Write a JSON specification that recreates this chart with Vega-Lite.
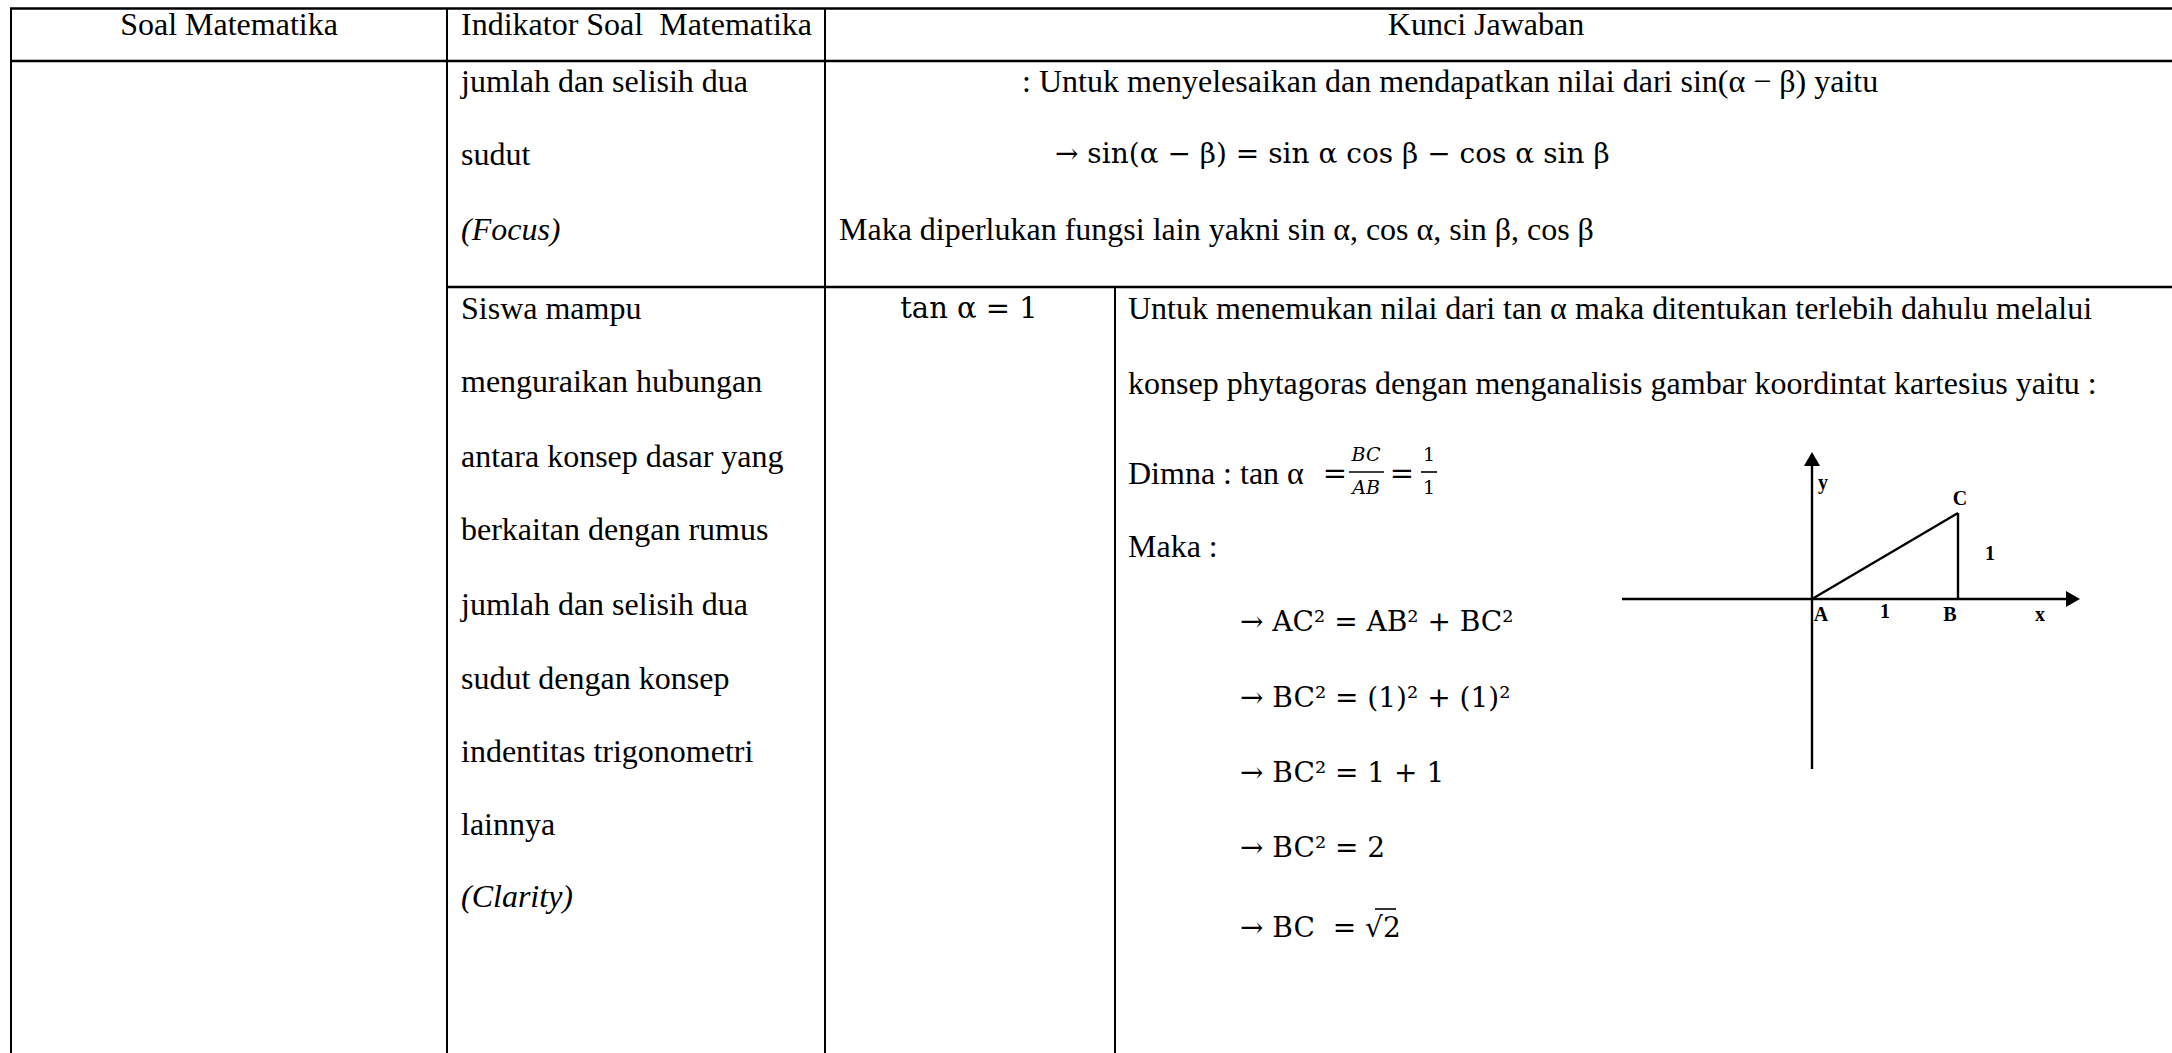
{
  "$schema": "https://vega.github.io/schema/vega-lite/v6.json",
  "width": 2172,
  "height": 1053,
  "padding": 0,
  "autosize": {"type": "none"},
  "background": "white",
  "config": {"view": {"stroke": null}},
  "datasets": {
    "lines": [
      {"kind": "h", "x": 10, "y": 8.5, "x2": 2172, "y2": 8.5},
      {"kind": "h", "x": 10, "y": 61, "x2": 2172, "y2": 61},
      {"kind": "h", "x": 446, "y": 287, "x2": 2172, "y2": 287},
      {"kind": "v", "x": 11, "y": 8, "x2": 11, "y2": 1053},
      {"kind": "v", "x": 447, "y": 8, "x2": 447, "y2": 1053},
      {"kind": "v", "x": 825, "y": 8, "x2": 825, "y2": 1053},
      {"kind": "v", "x": 1115, "y": 287, "x2": 1115, "y2": 1053},
      {"kind": "d", "x": 1622, "y": 599, "x2": 2068, "y2": 599},
      {"kind": "d", "x": 1812, "y": 466, "x2": 1812, "y2": 769},
      {"kind": "d", "x": 1812, "y": 599, "x2": 1958, "y2": 513},
      {"kind": "d", "x": 1958, "y": 513, "x2": 1958, "y2": 599},
      {"kind": "f", "x": 1349, "y": 472, "x2": 1384, "y2": 472},
      {"kind": "f", "x": 1421, "y": 472, "x2": 1437, "y2": 472},
      {"kind": "f", "x": 1375, "y": 909, "x2": 1396, "y2": 909}
    ],
    "arrows": [
      {"dir": "right", "x": 2073, "y": 599},
      {"dir": "up", "x": 1812, "y": 459}
    ],
    "texts": [
      {"kind": "hc", "x": 229, "y": 25, "t": "Soal Matematika"},
      {"kind": "hc", "x": 1486, "y": 25, "t": "Kunci Jawaban"},
      {"kind": "l", "x": 461, "y": 25, "t": "Indikator Soal\u00a0 Matematika"},
      {"kind": "l", "x": 461, "y": 82, "t": "jumlah dan selisih dua"},
      {"kind": "l", "x": 461, "y": 155, "t": "sudut"},
      {"kind": "i", "x": 461, "y": 230, "t": "(Focus)"},
      {"kind": "l", "x": 1022, "y": 82, "t": ": Untuk menyelesaikan dan mendapatkan nilai dari sin(α − β) yaitu"},
      {"kind": "m", "x": 1055, "y": 155, "t": "→ sin(α − β) = sin α cos β − cos α sin β"},
      {"kind": "l", "x": 839, "y": 230, "t": "Maka diperlukan fungsi lain yakni sin α, cos α, sin β, cos β"},
      {"kind": "l", "x": 461, "y": 309, "t": "Siswa mampu"},
      {"kind": "l", "x": 461, "y": 382, "t": "menguraikan hubungan"},
      {"kind": "l", "x": 461, "y": 457, "t": "antara konsep dasar yang"},
      {"kind": "l", "x": 461, "y": 530, "t": "berkaitan dengan rumus"},
      {"kind": "l", "x": 461, "y": 605, "t": "jumlah dan selisih dua"},
      {"kind": "l", "x": 461, "y": 679, "t": "sudut dengan konsep"},
      {"kind": "l", "x": 461, "y": 752, "t": "indentitas trigonometri"},
      {"kind": "l", "x": 461, "y": 825, "t": "lainnya"},
      {"kind": "i", "x": 461, "y": 897, "t": "(Clarity)"},
      {"kind": "mc", "x": 969, "y": 309, "t": "tan α = 1"},
      {"kind": "l", "x": 1128, "y": 309, "t": "Untuk menemukan nilai dari tan α maka ditentukan terlebih dahulu melalui"},
      {"kind": "l", "x": 1128, "y": 384, "t": "konsep phytagoras dengan menganalisis gambar koordintat kartesius yaitu :"},
      {"kind": "l", "x": 1128, "y": 474, "t": "Dimna : tan α"},
      {"kind": "mc", "x": 1335, "y": 474, "t": "="},
      {"kind": "mc", "x": 1402, "y": 474, "t": "="},
      {"kind": "fr", "x": 1366, "y": 455, "t": "BC"},
      {"kind": "fr", "x": 1366, "y": 488, "t": "AB"},
      {"kind": "fn", "x": 1429, "y": 455, "t": "1"},
      {"kind": "fn", "x": 1429, "y": 488, "t": "1"},
      {"kind": "l", "x": 1128, "y": 547, "t": "Maka :"},
      {"kind": "m", "x": 1240, "y": 623, "t": "→ AC² = AB² + BC²"},
      {"kind": "m", "x": 1240, "y": 699, "t": "→ BC² = (1)² + (1)²"},
      {"kind": "m", "x": 1240, "y": 774, "t": "→ BC² = 1 + 1"},
      {"kind": "m", "x": 1240, "y": 849, "t": "→ BC² = 2"},
      {"kind": "m", "x": 1240, "y": 929, "t": "→ BC\u00a0 = √2"},
      {"kind": "b", "x": 1823, "y": 483, "t": "y"},
      {"kind": "b", "x": 1960, "y": 499, "t": "C"},
      {"kind": "b", "x": 1990, "y": 554, "t": "1"},
      {"kind": "b", "x": 1821, "y": 615, "t": "A"},
      {"kind": "b", "x": 1885, "y": 612, "t": "1"},
      {"kind": "b", "x": 1950, "y": 615, "t": "B"},
      {"kind": "b", "x": 2040, "y": 615, "t": "x"}
    ]
  },
  "layer": [
    {
      "data": {"name": "lines"},
      "transform": [{"filter": "datum.kind === 'h'"}],
      "mark": {"type": "rule", "color": "black", "strokeWidth": 2.6},
      "encoding": {
        "x": {"field": "x", "type": "quantitative", "scale": {"domain": [0, 2172], "nice": false, "zero": false}, "axis": null},
        "x2": {"field": "x2"},
        "y": {"field": "y", "type": "quantitative", "scale": {"domain": [0, 1053], "nice": false, "zero": false, "reverse": true}, "axis": null},
        "y2": {"field": "y2"}
      }
    },
    {
      "data": {"name": "lines"},
      "transform": [{"filter": "datum.kind === 'v'"}],
      "mark": {"type": "rule", "color": "black", "strokeWidth": 2},
      "encoding": {
        "x": {"field": "x", "type": "quantitative", "scale": {"domain": [0, 2172], "nice": false, "zero": false}, "axis": null},
        "x2": {"field": "x2"},
        "y": {"field": "y", "type": "quantitative", "scale": {"domain": [0, 1053], "nice": false, "zero": false, "reverse": true}, "axis": null},
        "y2": {"field": "y2"}
      }
    },
    {
      "data": {"name": "lines"},
      "transform": [{"filter": "datum.kind === 'd'"}],
      "mark": {"type": "rule", "color": "black", "strokeWidth": 2.4},
      "encoding": {
        "x": {"field": "x", "type": "quantitative", "scale": {"domain": [0, 2172], "nice": false, "zero": false}, "axis": null},
        "x2": {"field": "x2"},
        "y": {"field": "y", "type": "quantitative", "scale": {"domain": [0, 1053], "nice": false, "zero": false, "reverse": true}, "axis": null},
        "y2": {"field": "y2"}
      }
    },
    {
      "data": {"name": "lines"},
      "transform": [{"filter": "datum.kind === 'f'"}],
      "mark": {"type": "rule", "color": "black", "strokeWidth": 1.6},
      "encoding": {
        "x": {"field": "x", "type": "quantitative", "scale": {"domain": [0, 2172], "nice": false, "zero": false}, "axis": null},
        "x2": {"field": "x2"},
        "y": {"field": "y", "type": "quantitative", "scale": {"domain": [0, 1053], "nice": false, "zero": false, "reverse": true}, "axis": null},
        "y2": {"field": "y2"}
      }
    },
    {
      "data": {"name": "arrows"},
      "transform": [{"filter": "datum.dir === 'right'"}],
      "mark": {"type": "point", "shape": "triangle-right", "filled": true, "color": "black", "size": 260, "opacity": 1},
      "encoding": {
        "x": {"field": "x", "type": "quantitative", "scale": {"domain": [0, 2172], "nice": false, "zero": false}, "axis": null},
        "y": {"field": "y", "type": "quantitative", "scale": {"domain": [0, 1053], "nice": false, "zero": false, "reverse": true}, "axis": null}
      }
    },
    {
      "data": {"name": "arrows"},
      "transform": [{"filter": "datum.dir === 'up'"}],
      "mark": {"type": "point", "shape": "triangle-up", "filled": true, "color": "black", "size": 260, "opacity": 1},
      "encoding": {
        "x": {"field": "x", "type": "quantitative", "scale": {"domain": [0, 2172], "nice": false, "zero": false}, "axis": null},
        "y": {"field": "y", "type": "quantitative", "scale": {"domain": [0, 1053], "nice": false, "zero": false, "reverse": true}, "axis": null}
      }
    },
    {
      "data": {"name": "texts"},
      "transform": [{"filter": "datum.kind === 'hc'"}],
      "mark": {"type": "text", "font": "Liberation Serif", "fontSize": 32, "align": "center", "baseline": "middle", "color": "black"},
      "encoding": {
        "x": {"field": "x", "type": "quantitative", "scale": {"domain": [0, 2172], "nice": false, "zero": false}, "axis": null},
        "y": {"field": "y", "type": "quantitative", "scale": {"domain": [0, 1053], "nice": false, "zero": false, "reverse": true}, "axis": null},
        "text": {"field": "t"}
      }
    },
    {
      "data": {"name": "texts"},
      "transform": [{"filter": "datum.kind === 'l'"}],
      "mark": {"type": "text", "font": "Liberation Serif", "fontSize": 32, "align": "left", "baseline": "middle", "color": "black"},
      "encoding": {
        "x": {"field": "x", "type": "quantitative", "scale": {"domain": [0, 2172], "nice": false, "zero": false}, "axis": null},
        "y": {"field": "y", "type": "quantitative", "scale": {"domain": [0, 1053], "nice": false, "zero": false, "reverse": true}, "axis": null},
        "text": {"field": "t"}
      }
    },
    {
      "data": {"name": "texts"},
      "transform": [{"filter": "datum.kind === 'i'"}],
      "mark": {"type": "text", "font": "Liberation Serif", "fontSize": 32, "fontStyle": "italic", "align": "left", "baseline": "middle", "color": "black"},
      "encoding": {
        "x": {"field": "x", "type": "quantitative", "scale": {"domain": [0, 2172], "nice": false, "zero": false}, "axis": null},
        "y": {"field": "y", "type": "quantitative", "scale": {"domain": [0, 1053], "nice": false, "zero": false, "reverse": true}, "axis": null},
        "text": {"field": "t"}
      }
    },
    {
      "data": {"name": "texts"},
      "transform": [{"filter": "datum.kind === 'm'"}],
      "mark": {"type": "text", "font": "DejaVu Serif", "fontSize": 28, "align": "left", "baseline": "middle", "color": "black"},
      "encoding": {
        "x": {"field": "x", "type": "quantitative", "scale": {"domain": [0, 2172], "nice": false, "zero": false}, "axis": null},
        "y": {"field": "y", "type": "quantitative", "scale": {"domain": [0, 1053], "nice": false, "zero": false, "reverse": true}, "axis": null},
        "text": {"field": "t"}
      }
    },
    {
      "data": {"name": "texts"},
      "transform": [{"filter": "datum.kind === 'mc'"}],
      "mark": {"type": "text", "font": "DejaVu Serif", "fontSize": 29, "align": "center", "baseline": "middle", "color": "black"},
      "encoding": {
        "x": {"field": "x", "type": "quantitative", "scale": {"domain": [0, 2172], "nice": false, "zero": false}, "axis": null},
        "y": {"field": "y", "type": "quantitative", "scale": {"domain": [0, 1053], "nice": false, "zero": false, "reverse": true}, "axis": null},
        "text": {"field": "t"}
      }
    },
    {
      "data": {"name": "texts"},
      "transform": [{"filter": "datum.kind === 'fr'"}],
      "mark": {"type": "text", "font": "DejaVu Serif", "fontSize": 19, "fontStyle": "italic", "align": "center", "baseline": "middle", "color": "black"},
      "encoding": {
        "x": {"field": "x", "type": "quantitative", "scale": {"domain": [0, 2172], "nice": false, "zero": false}, "axis": null},
        "y": {"field": "y", "type": "quantitative", "scale": {"domain": [0, 1053], "nice": false, "zero": false, "reverse": true}, "axis": null},
        "text": {"field": "t"}
      }
    },
    {
      "data": {"name": "texts"},
      "transform": [{"filter": "datum.kind === 'fn'"}],
      "mark": {"type": "text", "font": "DejaVu Serif", "fontSize": 19, "align": "center", "baseline": "middle", "color": "black"},
      "encoding": {
        "x": {"field": "x", "type": "quantitative", "scale": {"domain": [0, 2172], "nice": false, "zero": false}, "axis": null},
        "y": {"field": "y", "type": "quantitative", "scale": {"domain": [0, 1053], "nice": false, "zero": false, "reverse": true}, "axis": null},
        "text": {"field": "t"}
      }
    },
    {
      "data": {"name": "texts"},
      "transform": [{"filter": "datum.kind === 'b'"}],
      "mark": {"type": "text", "font": "Liberation Serif", "fontSize": 20, "fontWeight": "bold", "align": "center", "baseline": "middle", "color": "black"},
      "encoding": {
        "x": {"field": "x", "type": "quantitative", "scale": {"domain": [0, 2172], "nice": false, "zero": false}, "axis": null},
        "y": {"field": "y", "type": "quantitative", "scale": {"domain": [0, 1053], "nice": false, "zero": false, "reverse": true}, "axis": null},
        "text": {"field": "t"}
      }
    }
  ]
}
